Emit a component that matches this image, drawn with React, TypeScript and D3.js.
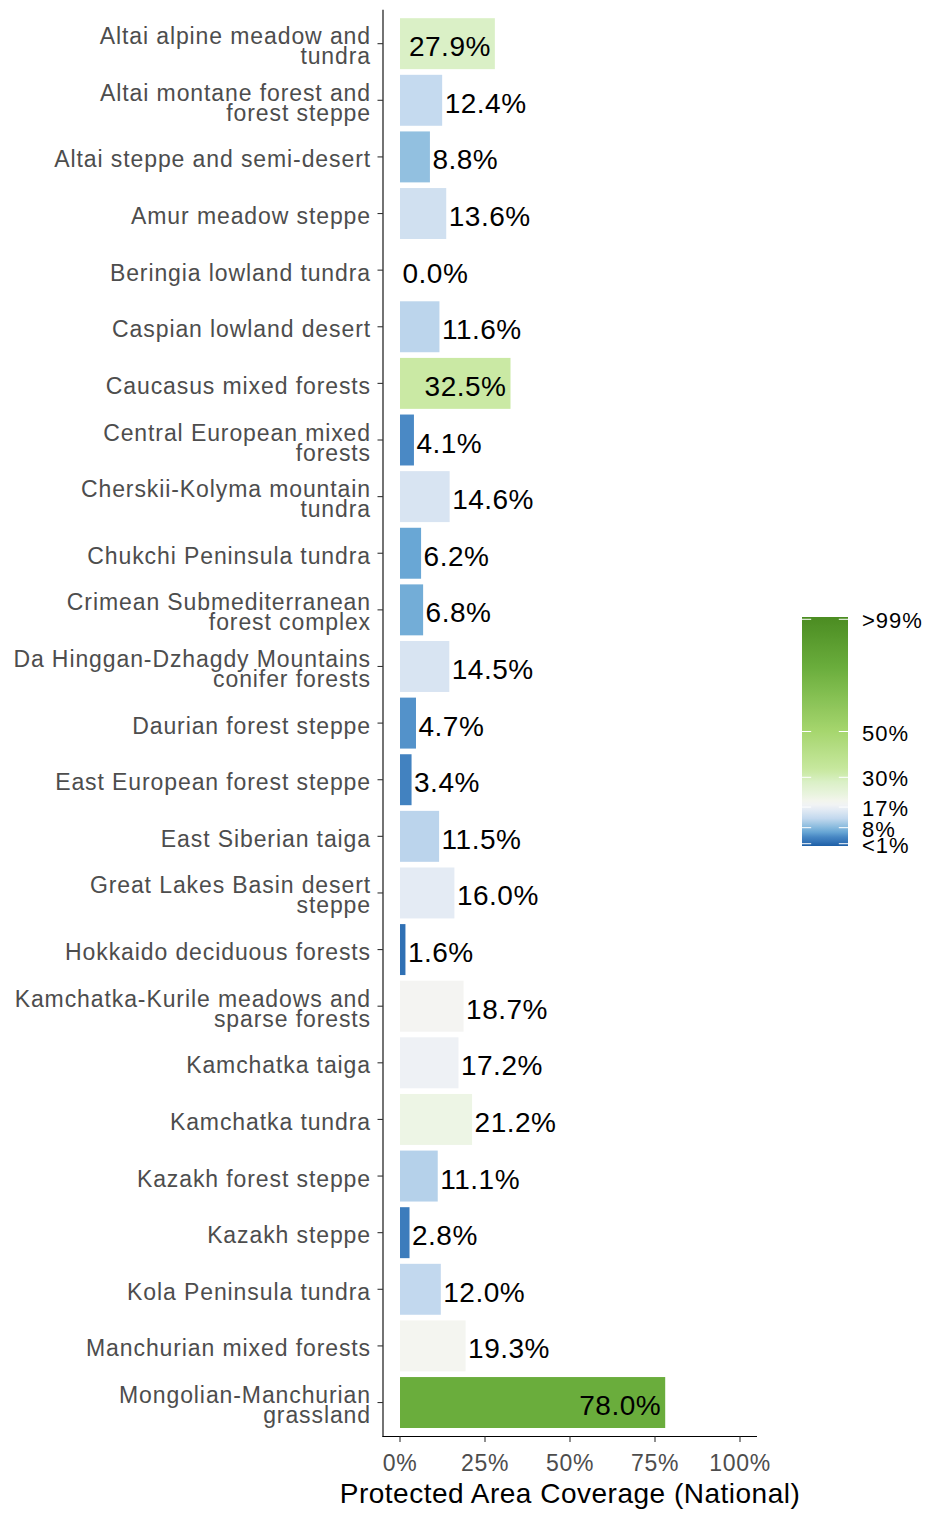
// Protected area coverage (national) per ecoregion — horizontal bars, diverging fill.
import * as d3 from "d3";

const W = 927;
const H = 1513;

const ECOREGIONS = [
  "Altai alpine meadow and tundra",
  "Altai montane forest and forest steppe",
  "Altai steppe and semi-desert",
  "Amur meadow steppe",
  "Beringia lowland tundra",
  "Caspian lowland desert",
  "Caucasus mixed forests",
  "Central European mixed forests",
  "Cherskii-Kolyma mountain tundra",
  "Chukchi Peninsula tundra",
  "Crimean Submediterranean forest complex",
  "Da Hinggan-Dzhagdy Mountains conifer forests",
  "Daurian forest steppe",
  "East European forest steppe",
  "East Siberian taiga",
  "Great Lakes Basin desert steppe",
  "Hokkaido deciduous forests",
  "Kamchatka-Kurile meadows and sparse forests",
  "Kamchatka taiga",
  "Kamchatka tundra",
  "Kazakh forest steppe",
  "Kazakh steppe",
  "Kola Peninsula tundra",
  "Manchurian mixed forests",
  "Mongolian-Manchurian grassland",
];

// percent protected
const COVERAGE = [
  27.9, 12.4, 8.8, 13.6, 0.0, 11.6, 32.5, 4.1, 14.6, 6.2, 6.8, 14.5, 4.7, 3.4,
  11.5, 16.0, 1.6, 18.7, 17.2, 21.2, 11.1, 2.8, 12.0, 19.3, 78.0,
];

const X_TICKS = [0, 25, 50, 75, 100];
const LEGEND_BREAKS = [1, 8, 17, 30, 50, 99];
const LEGEND_LABELS = ["<1%", "8%", "17%", "30%", "50%", ">99%"];

// fill ramp: blues below 17%, near-white around it, greens above
const RAMP_AT = [0, 2, 4, 6, 8.8, 12, 17, 19, 21, 28, 33, 50, 78, 100];
const RAMP_COL = [
  "#1d5fa6", "#3474b7", "#4888c4", "#66a5d4", "#92c0e0", "#c2d8ee", "#edf0f5",
  "#f5f5f2", "#eef5e6", "#daf0c6", "#c8e8a0", "#a6d66e", "#6aad3c", "#4b8c22",
];

const FONT = "'Liberation Sans', Arial, Helvetica, sans-serif";

function wrap(s: string, width = 28) {
  const lines: string[] = [];
  let cur = "";
  for (const w of s.split(" ")) {
    if (cur && (cur + " " + w).length > width) {
      lines.push(cur);
      cur = w;
    } else cur = cur ? cur + " " + w : w;
  }
  if (cur) lines.push(cur);
  return lines;
}

export default function App() {
  const panel = { left: 383, right: 757, top: 9.7, bottom: 1436.5 };

  const x = d3.scaleLinear().domain([-5, 105]).range([panel.left, panel.right]);
  const y = d3
    .scaleBand<string>()
    .domain(ECOREGIONS)
    .range([panel.top, panel.bottom])
    .paddingInner(0.1)
    .paddingOuter(0.15);
  const fill = d3.scaleLinear<string>().domain(RAMP_AT).range(RAMP_COL).interpolate(d3.interpolateRgb);

  const leg = { x: 802, w: 46, top: 617, bottom: 846 };
  const ly = d3.scaleLinear().domain([0, 100]).range([leg.bottom, leg.top]);
  const gradStops = d3.range(0, 101, 2);

  return (
    <div>
      <style>{`body{margin:0}`}</style>
      <svg width={W} height={H} viewBox={`0 0 ${W} ${H}`} style={{ display: "block", background: "#fff" }}>
        <defs>
          <linearGradient id="legGrad" x1="0" y1="1" x2="0" y2="0">
            {gradStops.map((v) => (
              <stop key={v} offset={`${v}%`} stopColor={fill(v)} />
            ))}
          </linearGradient>
        </defs>

        {/* bars */}
        {ECOREGIONS.map((name, i) => {
          const v = COVERAGE[i];
          return (
            <rect
              key={name}
              x={x(0)}
              y={y(name)}
              width={Math.max(0, x(v) - x(0))}
              height={y.bandwidth()}
              fill={fill(v)}
            />
          );
        })}

        {/* value labels: inside the bar when wide, else just past its end */}
        {ECOREGIONS.map((name, i) => {
          const v = COVERAGE[i];
          const cy = (y(name) ?? 0) + y.bandwidth() / 2;
          const inside = v > 25;
          return (
            <text
              key={name}
              x={inside ? x(v) - 4 : x(v) + 2.5}
              y={cy + 12.5}
              textAnchor={inside ? "end" : "start"}
              fontFamily={FONT}
              fontSize={28}
              letterSpacing={0.5}
              fill="#000"
            >
              {`${v.toFixed(1)}%`}
            </text>
          );
        })}

        {/* y axis */}
        <line x1={panel.left} x2={panel.left} y1={panel.top} y2={panel.bottom + 0.5} stroke="#000" strokeWidth={1.1} />
        {ECOREGIONS.map((name) => {
          const cy = (y(name) ?? 0) + y.bandwidth() / 2;
          const lines = wrap(name);
          const lh = 20;
          const first = cy + 10.5 - ((lines.length - 1) * lh) / 2;
          return (
            <g key={name}>
              <line x1={panel.left - 5.5} x2={panel.left} y1={cy} y2={cy} stroke="#333" strokeWidth={1.1} />
              <text
                x={371}
                textAnchor="end"
                fontFamily={FONT}
                fontSize={23}
                letterSpacing={0.9}
                fill="#4d4d4d"
              >
                {lines.map((l, k) => (
                  <tspan key={k} x={371} y={first + k * lh}>
                    {l}
                  </tspan>
                ))}
              </text>
            </g>
          );
        })}

        {/* x axis */}
        <line x1={panel.left - 0.5} x2={panel.right} y1={panel.bottom} y2={panel.bottom} stroke="#000" strokeWidth={1.1} />
        {X_TICKS.map((t) => (
          <g key={t}>
            <line x1={x(t)} x2={x(t)} y1={panel.bottom} y2={panel.bottom + 5.5} stroke="#333" strokeWidth={1.1} />
            <text
              x={x(t)}
              y={1471}
              textAnchor="middle"
              fontFamily={FONT}
              fontSize={23}
              letterSpacing={0.7}
              fill="#4d4d4d"
            >
              {`${t}%`}
            </text>
          </g>
        ))}
        <text
          x={(panel.left + panel.right) / 2}
          y={1503}
          textAnchor="middle"
          fontFamily={FONT}
          fontSize={28}
          letterSpacing={0.5}
          fill="#000"
        >
          Protected Area Coverage (National)
        </text>

        {/* colour bar legend */}
        <rect x={leg.x} y={leg.top} width={leg.w} height={leg.bottom - leg.top} fill="url(#legGrad)" />
        {LEGEND_BREAKS.map((b, i) => (
          <g key={b}>
            <line x1={leg.x} x2={leg.x + leg.w / 5} y1={ly(b)} y2={ly(b)} stroke="#fff" strokeWidth={1} />
            <line x1={leg.x + leg.w - leg.w / 5} x2={leg.x + leg.w} y1={ly(b)} y2={ly(b)} stroke="#fff" strokeWidth={1} />
            <text x={862} y={ly(b) + 9} fontFamily={FONT} fontSize={22} letterSpacing={1} fill="#000">
              {LEGEND_LABELS[i]}
            </text>
          </g>
        ))}
      </svg>
    </div>
  );
}
